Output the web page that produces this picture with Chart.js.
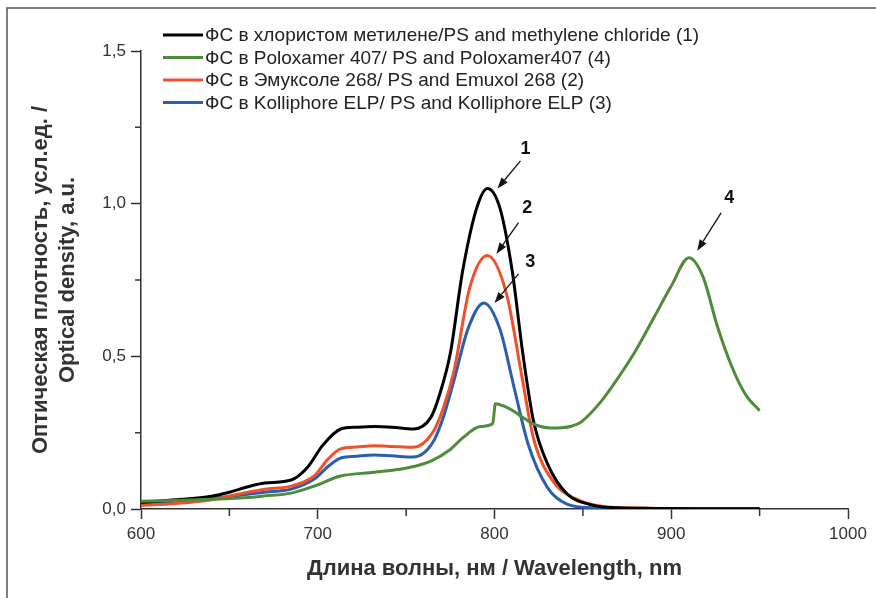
<!DOCTYPE html>
<html>
<head>
<meta charset="utf-8">
<script src="https://cdn.jsdelivr.net/npm/chart.js@4.4.1/dist/chart.umd.min.js"></script>
<style>
  html, body { margin: 0; padding: 0; background: #fff; }
  canvas { display: block; }
</style>
</head>
<body>
<canvas id="chart" width="876" height="598"></canvas>
<script>
// series 1: black, methylene chloride
const wl1 = [600, 620, 640, 650, 660, 670, 685, 694, 703, 713, 722, 732, 742, 754, 764, 769, 775, 782, 790, 796, 803, 810, 816, 822, 830, 841, 856, 870, 890, 920, 950];
const od1 = [0.022, 0.03, 0.042, 0.055, 0.072, 0.085, 0.095, 0.135, 0.21, 0.262, 0.268, 0.27, 0.268, 0.262, 0.30, 0.376, 0.51, 0.78, 0.987, 1.05, 0.987, 0.78, 0.51, 0.29, 0.148, 0.05, 0.012, 0.004, 0.002, 0.001, 0.001];

// series 2: red, Emuxol 268
const wl2 = [600, 620, 640, 656, 670, 685, 698, 706, 713, 722, 732, 742, 754, 765, 771, 777, 786, 796, 807, 815, 822, 833, 849, 862, 880, 910, 950];
const od2 = [0.012, 0.018, 0.03, 0.05, 0.065, 0.075, 0.108, 0.165, 0.197, 0.203, 0.207, 0.205, 0.202, 0.25, 0.33, 0.45, 0.725, 0.83, 0.70, 0.45, 0.233, 0.092, 0.026, 0.008, 0.003, 0.001, 0.001];

// series 3: blue, Kolliphore ELP
const wl3 = [600, 620, 640, 656, 670, 685, 698, 706, 713, 722, 732, 742, 754, 765, 771, 777, 785, 794, 803, 811, 819, 830, 841, 855, 880, 950];
const od3 = [0.02, 0.025, 0.035, 0.045, 0.055, 0.065, 0.098, 0.14, 0.167, 0.173, 0.177, 0.174, 0.17, 0.217, 0.3, 0.42, 0.59, 0.675, 0.59, 0.40, 0.213, 0.07, 0.016, 0.004, 0.001, 0.001];

// series 4: green, Poloxamer 407
const wl4 = [600, 620, 640, 656, 670, 685, 698, 713, 732, 751, 764, 775, 782, 792, 799, 800.5, 806, 811, 816, 820, 826, 832, 838, 844, 849, 860, 870, 880, 890, 900, 910, 918, 926, 934, 942, 950];
const od4 = [0.025, 0.028, 0.032, 0.036, 0.043, 0.052, 0.075, 0.108, 0.12, 0.135, 0.157, 0.195, 0.233, 0.27, 0.28, 0.345, 0.335, 0.32, 0.30, 0.285, 0.27, 0.265, 0.266, 0.272, 0.285, 0.35, 0.43, 0.52, 0.625, 0.73, 0.823, 0.76, 0.6, 0.47, 0.375, 0.322];

const labels = [
  'ФС в хлористом метилене/PS and methylene chloride (1)',
  'ФС в Poloxamer 407/ PS and Poloxamer407 (4)',
  'ФС в Эмуксоле 268/ PS and Emuxol 268 (2)',
  'ФС в Kolliphore ELP/ PS and Kolliphore ELP (3)'
];
const colors = ['#000000', '#4e8b3a', '#f0502a', '#2b5fad'];

const xTicks = [600, 700, 800, 900, 1000];
const yTicks = ['0,0', '0,5', '1,0', '1,5'];

// callout numbers with arrows, in data units
const callouts = [
  { text: '1', at: [817.5, 1.18], from: [814.7, 1.14], to: [801.7, 1.05] },
  { text: '2', at: [818.6, 0.987], from: [813.6, 0.938], to: [801.1, 0.836] },
  { text: '3', at: [820.3, 0.81], from: [813.6, 0.77], to: [800, 0.675] },
  { text: '4', at: [932.8, 1.02], from: [928.2, 0.97], to: [914.7, 0.846] }
];

function pts(xs, ys) {
  return xs.map((x, i) => ({ x: x, y: ys[i] }));
}

const FONT = '"Liberation Sans", Arial, sans-serif';

const extras = {
  id: 'extras',
  afterDraw(chart) {
    const ctx = chart.ctx;
    const xs = chart.scales.x, ys = chart.scales.y;
    ctx.save();

    // frame at top and left
    ctx.strokeStyle = '#555';
    ctx.lineWidth = 1.5;
    ctx.beginPath();
    ctx.moveTo(7, 598);
    ctx.lineTo(7, 8);
    ctx.lineTo(876, 8);
    ctx.stroke();

    // minor ticks
    ctx.strokeStyle = '#333';
    ctx.lineWidth = 1.5;
    ctx.beginPath();
    for (let v = 650; v < 1000; v += 100) {
      const px = xs.getPixelForValue(v);
      ctx.moveTo(px, xs.top);
      ctx.lineTo(px, xs.top + 7);
    }
    for (let v = 0.25; v < 1.5; v += 0.5) {
      const py = ys.getPixelForValue(v);
      ctx.moveTo(ys.right, py);
      ctx.lineTo(ys.right - 6, py);
    }
    ctx.stroke();

    // legend
    ctx.font = '19px ' + FONT;
    ctx.textBaseline = 'middle';
    ctx.textAlign = 'left';
    [0, 1, 2, 3].forEach((i, row) => {
      const y = 35 + row * 22.5;
      ctx.strokeStyle = colors[i];
      ctx.lineWidth = 3;
      ctx.beginPath();
      ctx.moveTo(163, y);
      ctx.lineTo(203, y);
      ctx.stroke();
      ctx.fillStyle = '#222';
      ctx.fillText(labels[i], 205, y + 1);
    });

    // callouts
    ctx.font = 'bold 18px ' + FONT;
    ctx.textAlign = 'center';
    callouts.forEach(c => {
      ctx.fillStyle = '#111';
      ctx.fillText(c.text, xs.getPixelForValue(c.at[0]), ys.getPixelForValue(c.at[1]));
      const x0 = xs.getPixelForValue(c.from[0]), y0 = ys.getPixelForValue(c.from[1]);
      const x1 = xs.getPixelForValue(c.to[0]), y1 = ys.getPixelForValue(c.to[1]);
      const ang = Math.atan2(y1 - y0, x1 - x0);
      const hl = 11, hw = 4;
      ctx.strokeStyle = '#111';
      ctx.lineWidth = 1.3;
      ctx.beginPath();
      ctx.moveTo(x0, y0);
      ctx.lineTo(x1 - hl * Math.cos(ang), y1 - hl * Math.sin(ang));
      ctx.stroke();
      ctx.beginPath();
      ctx.moveTo(x1, y1);
      ctx.lineTo(x1 - hl * Math.cos(ang) + hw * Math.sin(ang), y1 - hl * Math.sin(ang) - hw * Math.cos(ang));
      ctx.lineTo(x1 - hl * Math.cos(ang) - hw * Math.sin(ang), y1 - hl * Math.sin(ang) + hw * Math.cos(ang));
      ctx.closePath();
      ctx.fill();
    });
    ctx.restore();
  }
};

const datasets = [
  { label: labels[1], data: pts(wl4, od4), borderColor: colors[1] },
  { label: labels[0], data: pts(wl1, od1), borderColor: colors[0] },
  { label: labels[2], data: pts(wl2, od2), borderColor: colors[2] },
  { label: labels[3], data: pts(wl3, od3), borderColor: colors[3] }
].map(d => Object.assign(d, {
  borderWidth: 3,
  pointRadius: 0,
  fill: false,
  cubicInterpolationMode: 'monotone'
}));

new Chart(document.getElementById('chart'), {
  type: 'line',
  data: { datasets: datasets },
  plugins: [extras],
  options: {
    responsive: false,
    animation: false,
    layout: { padding: { left: 8, top: 51, right: 28, bottom: 0 } },
    plugins: { legend: { display: false }, tooltip: { enabled: false } },
    scales: {
      x: {
        type: 'linear',
        min: 600,
        max: 1000,
        afterFit(scale) { scale.height = 89; },
        afterBuildTicks(scale) { scale.ticks = xTicks.map(v => ({ value: v })); },
        ticks: {
          font: { family: FONT, size: 17 },
          color: '#333',
          padding: 5,
          maxRotation: 0,
          callback: (v, i) => String(xTicks[i])
        },
        grid: { drawOnChartArea: false, tickLength: 10, tickColor: '#333', tickWidth: 1.5 },
        border: { color: '#333', width: 1.5 },
        title: {
          display: true,
          text: 'Длина волны, нм / Wavelength, nm',
          font: { family: FONT, size: 22, weight: 'bold' },
          color: '#333',
          padding: { top: 0, bottom: 16 }
        }
      },
      y: {
        min: 0,
        max: 1.5,
        afterFit(scale) { scale.width = 133; },
        afterBuildTicks(scale) { scale.ticks = yTicks.map((t, i) => ({ value: i * 0.5 })); },
        ticks: {
          font: { family: FONT, size: 17 },
          color: '#333',
          padding: 5,
          callback: (v, i) => yTicks[i]
        },
        grid: { drawOnChartArea: false, tickLength: 10, tickColor: '#333', tickWidth: 1.5 },
        border: { color: '#333', width: 1.5 },
        title: {
          display: true,
          text: ['Оптическая плотность, усл.ед. /', 'Optical density, a.u.'],
          font: { family: FONT, size: 22, weight: 'bold', lineHeight: 1.25 },
          color: '#333',
          padding: { top: 19, bottom: 0 }
        }
      }
    }
  }
});
</script>
</body>
</html>
